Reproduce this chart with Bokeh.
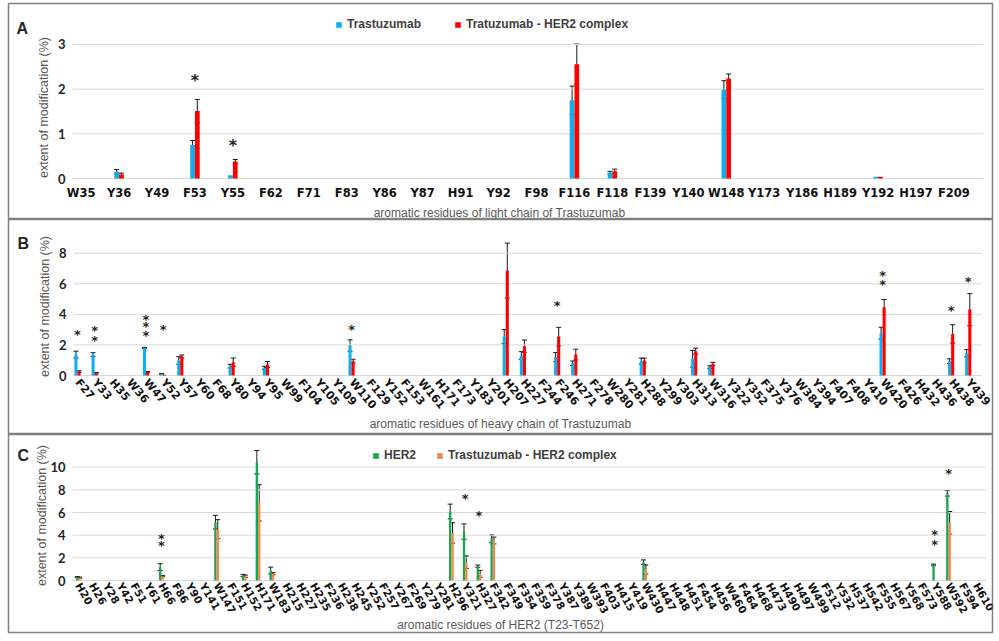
import math
from bokeh.plotting import figure
from bokeh.models import (ColumnDataSource, Range1d, FixedTicker, Whisker, TeeHead,
                          Legend, LegendItem, Label)
from bokeh.layouts import column
from bokeh.embed import file_html
from bokeh.resources import INLINE
from bokeh.core.properties import value

# ---------------- Panel A : light chain ----------------
A_residues = ["W35", "Y36", "Y49", "F53", "Y55", "F62", "F71", "F83", "Y86", "Y87", "H91", "Y92",
              "F98", "F116", "F118", "F139", "Y140", "W148", "Y173", "Y186", "H189", "Y192", "H197", "F209"]
A_measured = ["Y36", "F53", "Y55", "F116", "F118", "W148", "Y192"]
A_free = [0.15, 0.75, 0.07, 1.75, 0.13, 1.99, 0.04]
A_free_err = [0.05, 0.10, 0.0, 0.32, 0.03, 0.20, 0.0]
A_complex = [0.09, 1.51, 0.38, 2.56, 0.16, 2.24, 0.04]
A_complex_err = [0.03, 0.26, 0.045, 0.45, 0.05, 0.10, 0.0]
A_star_res = ["F53", "Y55"]
A_star_y = [2.24, 0.78]
A_names = ["Trastuzumab", "Tratuzumab - HER2 complex"]
A_ticks = [0, 1, 2, 3]

# ---------------- Panel B : heavy chain ----------------
B_residues = ["F27", "Y33", "H35", "W36", "W47", "Y52", "Y57", "Y60", "F68", "Y80", "Y94", "Y95", "W99",
              "F104", "Y105", "Y109", "W110", "F129", "Y152", "F153", "W161", "H171", "F173", "Y183", "Y201",
              "H207", "H227", "F244", "F246", "H271", "F278", "W280", "Y281", "H288", "Y299", "Y303", "H313",
              "W316", "Y322", "Y352", "F375", "Y376", "W384", "Y394", "F407", "F408", "Y410", "W420", "F426",
              "H432", "H436", "H438", "Y439"]
B_measured = ["F27", "Y33", "W47", "Y52", "Y57", "Y80", "Y95", "W110", "H207", "H227", "F246", "H271",
              "H288", "H313", "W316", "W420", "H438", "Y439"]
B_free = [1.37, 1.37, 1.80, 0.10, 0.98, 0.61, 0.50, 1.96, 2.55, 1.31, 1.20, 0.80, 0.94, 1.09, 0.55, 2.77, 0.94, 1.46]
B_free_err = [0.22, 0.12, 0.04, 0.02, 0.25, 0.12, 0.10, 0.37, 0.45, 0.25, 0.30, 0.15, 0.20, 0.55, 0.08, 0.39, 0.15, 0.24]
B_complex = [0.26, 0.15, 0.22, 0.05, 1.24, 0.87, 0.72, 0.94, 6.86, 1.92, 2.55, 1.37, 0.98, 1.59, 0.76, 4.47, 2.72, 4.31]
B_complex_err = [0.05, 0.05, 0.04, 0.0, 0.10, 0.27, 0.20, 0.12, 1.80, 0.40, 0.60, 0.35, 0.15, 0.20, 0.10, 0.50, 0.60, 1.05]
B_star_res = ["F27", "Y33", "Y33", "W47", "W47", "W47", "Y52", "W110", "F246", "W420", "W420", "H438", "Y439"]
B_star_y = [2.80, 3.05, 2.44, 3.81, 3.31, 2.72, 3.16, 3.16, 4.73, 6.69, 6.10, 4.36, 6.27]
B_ticks = [0, 2, 4, 6, 8]

# ---------------- Panel C : HER2 ----------------
C_residues = ["H20", "H26", "Y28", "Y42", "F51", "Y61", "H66", "F86", "Y90", "Y141", "W147", "F151", "H152",
              "H171", "W183", "H215", "H227", "H235", "F236", "H238", "H245", "Y252", "F257", "Y267", "F269",
              "Y279", "Y281", "H296", "Y321", "H327", "F342", "F349", "F354", "F359", "F378", "Y387", "Y389",
              "W393", "F403", "H415", "Y419", "W430", "H447", "H448", "H451", "F454", "H456", "W460", "F464",
              "H468", "H473", "H490", "H497", "W499", "F512", "Y532", "H537", "H542", "F555", "H567", "Y568",
              "F573", "Y588", "W592", "F594", "H610"]
C_measured = ["H20", "H66", "W147", "H152", "H171", "W183", "H296", "Y321", "H327", "F342", "W430", "Y588", "W592"]
C_free = [0.29, 1.18, 5.15, 0.44, 10.44, 0.88, 6.09, 4.32, 1.26, 3.68, 1.62, 1.38, 7.70]
C_free_err = [0.05, 0.30, 0.60, 0.10, 1.03, 0.30, 0.65, 0.68, 0.10, 0.35, 0.20, 0.07, 0.25]
C_complex = [0.25, 0.38, 4.53, 0.38, 6.85, 0.59, 4.20, 1.62, 0.59, 3.53, 0.97, 0.03, 5.09]
C_complex_err = [0.05, 0.05, 0.84, 0.10, 1.60, 0.10, 0.90, 0.55, 0.30, 0.30, 0.40, 0.0, 1.00]
C_star_res = ["H66", "H66", "Y321", "H327", "Y588", "Y588", "W592"]
C_star_y = [3.88, 3.30, 7.44, 5.94, 4.21, 3.38, 9.62]
C_names = ["HER2", "Trastuzumab - HER2 complex"]
C_ticks = [0, 2, 4, 6, 8, 10]

YTITLE = "extent of modification (%)"
FIG_W = 999          # the page is laid out from (0, 0)
FRAME_L = 8          # panel border, left edge (page px)
FRAME_R = 992        # panel border, right edge (page px)
GRID = "#D9D9D9"
TXT = "#262626"
GRAY = "#595959"


def build(residues, measured, s1, e1, s2, e2, names, colors, star_res, star_y, ticks, letter, xtitle, g):
    top_px, bot_px, mb_top, mb_bot = g["page_top"], g["page_bottom"], g["mb_top"], g["mb_bottom"]
    height = bot_px - top_px
    f_top = top_px + mb_top
    f_bot = bot_px - mb_bot
    c0, pitch, zero, unit = g["cat0"], g["pitch"], g["zero"], g["unit"]
    xr = Range1d((FRAME_L - c0) / pitch, (FRAME_R - c0) / pitch)
    yr = Range1d(-(f_bot - zero) / unit, (zero - f_top) / unit)

    p = figure(x_range=xr, y_range=yr, width=FIG_W, height=height, output_backend="svg",
               toolbar_location=None, min_border_left=FRAME_L, min_border_right=FIG_W - FRAME_R,
               min_border_top=mb_top, min_border_bottom=mb_bot)
    p.background_fill_color = "white"
    p.border_fill_color = "white"
    p.outline_line_color = "#808080"
    p.outline_line_width = 1.5
    p.xgrid.grid_line_color = None
    p.ygrid.grid_line_color = None

    idx = {r: i for i, r in enumerate(residues)}
    y_axis_x = (g["grid_left"] - c0) / pitch
    grid_end_x = (g["grid_right"] - c0) / pitch

    # horizontal gridlines at the tick values
    p.segment(x0=[y_axis_x] * len(ticks), x1=[grid_end_x] * len(ticks), y0=ticks, y1=ticks,
              line_color=GRID, line_width=1)

    bw = g["bar_w"]
    off = bw / 2.0
    d1 = dict(zip(measured, s1))
    d2 = dict(zip(measured, s2))
    pos = list(range(len(residues)))
    src = ColumnDataSource(dict(x1=[i - off for i in pos], x2=[i + off for i in pos],
                                v1=[d1.get(r, 0.0) for r in residues],
                                v2=[d2.get(r, 0.0) for r in residues]))
    r1 = p.vbar(x="x1", top="v1", width=bw, source=src, fill_color=colors[0], line_color=None)
    r2 = p.vbar(x="x2", top="v2", width=bw, source=src, fill_color=colors[1], line_color=None)

    for vals, errs, o in ((s1, e1, -off), (s2, e2, off)):
        rows = [(idx[r] + o, v, e) for r, v, e in zip(measured, vals, errs) if e > 0]
        wsrc = ColumnDataSource(dict(x=[r[0] for r in rows],
                                     up=[r[1] + r[2] for r in rows],
                                     lo=[r[1] - r[2] for r in rows]))
        p.add_layout(Whisker(base="x", upper="up", lower="lo", source=wsrc,
                             line_color="#1a1a1a", line_width=1,
                             upper_head=TeeHead(size=5, line_color="#1a1a1a", line_width=1),
                             lower_head=TeeHead(size=5, line_color="#1a1a1a", line_width=1)))

    ssrc = ColumnDataSource(dict(x=[idx[r] for r in star_res], y=star_y, s=["*"] * len(star_res)))
    p.text(x="x", y="y", text="s", source=ssrc, text_font=value("DejaVu Sans"),
           text_font_size=f"{g['star_size']}px", text_font_style="bold", text_align="center",
           text_baseline="alphabetic", y_offset=g["star_off"], text_color="#222222")

    # axes placed at fixed locations inside the panel
    for ax in (p.xaxis, p.yaxis):
        ax.axis_line_color = None
        ax.major_tick_line_color = None
        ax.minor_tick_line_color = None
        ax.major_tick_out = 0
        ax.major_tick_in = 0
        ax.minor_tick_out = 0
        ax.minor_tick_in = 0
    p.xaxis.fixed_location = 0
    p.yaxis.fixed_location = y_axis_x
    p.xaxis.ticker = FixedTicker(ticks=pos, minor_ticks=[])
    p.xaxis.major_label_overrides = {i: r for i, r in enumerate(residues)}
    p.xaxis.major_label_text_font = "DejaVu Sans"
    p.xaxis.major_label_text_font_style = "bold"
    p.xaxis.major_label_text_font_size = f"{g['xlab_size']}px"
    p.xaxis.major_label_text_color = "#111111"
    p.xaxis.major_label_standoff = g["xlab_standoff"]
    if g["xlab_angle"]:
        p.xaxis.major_label_orientation = -math.radians(g["xlab_angle"])

    p.yaxis.ticker = FixedTicker(ticks=ticks, minor_ticks=[])
    p.yaxis.major_label_text_font = "Lato"
    p.yaxis.major_label_text_font_style = "bold"
    p.yaxis.major_label_text_font_size = "13px"
    p.yaxis.major_label_text_color = TXT
    p.yaxis.major_label_standoff = g["ylab_standoff"]

    # axis titles, panel letter (screen units relative to the panel frame)
    xt, yt = g["xtitle_px"], g["ytitle_px"]
    p.add_layout(Label(x=xt[0] - FRAME_L, y=f_bot - xt[1], x_units="screen", y_units="screen",
                       text=xtitle, text_font="Liberation Sans", text_font_size="12px",
                       text_color=GRAY, text_align="center", text_baseline="middle"))
    p.add_layout(Label(x=yt[0] - FRAME_L, y=f_bot - yt[1], x_units="screen", y_units="screen",
                       text=YTITLE, angle=math.pi / 2, text_font="Liberation Sans",
                       text_font_size="12.5px", text_color=GRAY, text_align="center",
                       text_baseline="middle"))
    lt = g["letter_px"]
    p.add_layout(Label(x=lt[0] - FRAME_L, y=f_bot - lt[1], x_units="screen", y_units="screen",
                       text=letter, text_font="Liberation Sans", text_font_size="16px",
                       text_font_style="bold", text_color=TXT, text_baseline="alphabetic"))

    if names is not None:
        lg = g["legend_px"]
        leg = Legend(items=[LegendItem(label=names[0], renderers=[r1]),
                            LegendItem(label=names[1], renderers=[r2])],
                     orientation="horizontal", location=(lg[0] - FRAME_L, f_bot - lg[1]),
                     spacing=g["legend_spacing"], padding=0, margin=0, glyph_width=7, glyph_height=7,
                     label_standoff=5, label_height=12, label_text_font="Liberation Sans",
                     label_text_font_size="12px", label_text_font_style="bold",
                     label_text_color="#404040", border_line_color=None, background_fill_alpha=0)
        p.add_layout(leg)
    return p


geoA = dict(page_top=0, page_bottom=219, mb_top=3, mb_bottom=1, cat0=80.6, pitch=37.95, zero=178,
            unit=44.67, grid_left=72, grid_right=983, bar_w=0.125, star_size=16, star_off=2,
            xlab_size=11.5, xlab_standoff=7, xlab_angle=0, ylab_standoff=7,
            xtitle_px=(499, 212), ytitle_px=(43, 107), letter_px=(16, 28),
            legend_px=(335, 31), legend_spacing=33)
geoB = dict(page_top=219, page_bottom=434, mb_top=0, mb_bottom=1, cat0=77, pitch=17.13, zero=375,
            unit=15.29, grid_left=73, grid_right=981, bar_w=0.18, star_size=13, star_off=2,
            xlab_size=11, xlab_standoff=5, xlab_angle=50, ylab_standoff=7,
            xtitle_px=(500, 423), ytitle_px=(44, 306), letter_px=(17, 243))
geoC = dict(page_top=434, page_bottom=636, mb_top=0, mb_bottom=4, cat0=78, pitch=13.81, zero=580,
            unit=11.33, grid_left=72, grid_right=985, bar_w=0.17, star_size=13, star_off=2,
            xlab_size=10.5, xlab_standoff=3, xlab_angle=60, ylab_standoff=7,
            xtitle_px=(500, 624), ytitle_px=(41, 515), letter_px=(17, 455),
            legend_px=(372, 462), legend_spacing=20)

pA = build(A_residues, A_measured, A_free, A_free_err, A_complex, A_complex_err, A_names,
           ["#12AEEA", "#FF0000"], A_star_res, A_star_y, A_ticks, "A",
           "aromatic residues of light chain of Trastuzumab", geoA)
pB = build(B_residues, B_measured, B_free, B_free_err, B_complex, B_complex_err, None,
           ["#12AEEA", "#FF0000"], B_star_res, B_star_y, B_ticks, "B",
           "aromatic residues of heavy chain of Trastuzumab", geoB)
pC = build(C_residues, C_measured, C_free, C_free_err, C_complex, C_complex_err, C_names,
           ["#1BA552", "#F4874B"], C_star_res, C_star_y, C_ticks, "C",
           "aromatic residues of HER2 (T23-T652)", geoC)

layout = column(pA, pB, pC)
open("out.html", "w").write(file_html(layout, INLINE))
